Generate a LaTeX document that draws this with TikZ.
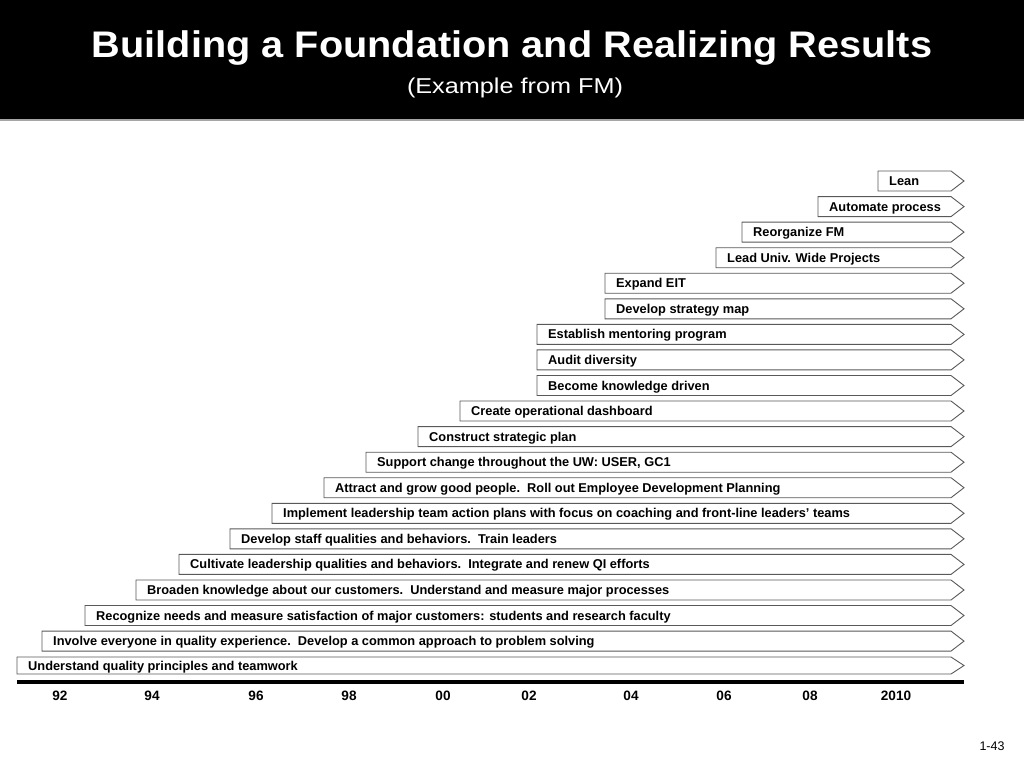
\documentclass[tikz,border=0pt]{standalone}
\usepackage{fontspec}
\setmainfont{Liberation Sans}
\usepackage{graphicx}
\tikzset{
  barshape/.style={draw=black!65, line width=0.9pt, fill=white},
  lbl/.style={font=\bfseries\fontsize{12.8}{13}\selectfont, anchor=base west, inner sep=0pt},
  yr/.style={font=\bfseries\fontsize{13.6}{14}\selectfont, anchor=base, inner sep=0pt},
}
\newcommand\milestone[5]{%
  \draw[barshape] (#2,#3-#4) -- (951,#3-#4) -- (964,#3) -- (951,#3+#4) -- (#2,#3+#4) -- cycle;
  \node[lbl] (#1) at (#2+11,#3+4.5) {#5};}
\begin{document}
\begin{tikzpicture}[x=1pt,y=-1pt]
\useasboundingbox (0,0) rectangle (1024,768);
\fill[black] (0,0) rectangle (1024,119);
\draw[black!35, line width=1.2pt] (0,120) -- (1024,120);
\node[anchor=base, inner sep=0pt, text=white] (title) at (512,57.3)
  {\resizebox{840pt}{\height}{\fontsize{37}{40}\selectfont\bfseries Building a Foundation and Realizing Results}};
\node[anchor=base, inner sep=0pt, text=white] (subtitle) at (515,93.3)
  {\resizebox{216pt}{\height}{\fontsize{21.5}{24}\selectfont (Example from FM)}};

\milestone{m1}{878}{181}{10}{Lean}
\milestone{m2}{818}{206.6}{10}{Automate process}
\milestone{m3}{742}{232.1}{10}{Reorganize FM}
\milestone{m4}{716}{257.7}{10}{Lead Univ. Wide Projects}
\milestone{m5}{605}{283.2}{10}{Expand EIT}
\milestone{m6}{605}{308.8}{10}{Develop strategy map}
\milestone{m7}{537}{334.4}{10}{Establish mentoring program}
\milestone{m8}{537}{359.9}{10}{Audit diversity}
\milestone{m9}{537}{385.5}{10}{Become knowledge driven}
\milestone{m10}{460}{411}{10}{Create operational dashboard}
\milestone{m11}{418}{436.6}{10}{Construct strategic plan}
\milestone{m12}{366}{462.2}{10}{Support change throughout the UW: USER, GC1}
\milestone{m13}{324}{487.7}{10}{Attract and grow good people.\ \ Roll out Employee Development Planning}
\milestone{m14}{272}{513.3}{10}{Implement leadership team action plans with focus on coaching and front-line leaders’ teams}
\milestone{m15}{230}{538.8}{10}{Develop staff qualities and behaviors.\ \ Train leaders}
\milestone{m16}{179}{564.4}{10}{Cultivate leadership qualities and behaviors.\ \ Integrate and renew QI efforts}
\milestone{m17}{136}{590}{10}{Broaden knowledge about our customers.\ \ Understand and measure major processes}
\milestone{m18}{85}{615.5}{10}{Recognize needs and measure satisfaction of major customers: students and research faculty}
\milestone{m19}{42}{641.1}{10}{Involve everyone in quality experience.\ \ Develop a common approach to problem solving}
\milestone{m20}{17}{665.5}{8.5}{Understand quality principles and teamwork}

\coordinate (tl0) at (17,682);
\coordinate (tl1) at (964,682);
\draw[black, line width=4pt] (tl0) -- (tl1);

\foreach \n/\x/\t in {y92/60/92, y94/152/94, y96/256/96, y98/349/98, y00/443/00, y02/529/02, y04/631/04, y06/724/06, y08/810/08, y10/896/2010}
  \node[yr] (\n) at (\x,700) {\t};

\node[anchor=base, inner sep=0pt, font=\fontsize{12.5}{13}\selectfont] (pg) at (992,750) {1-43};
\end{tikzpicture}
\end{document}
